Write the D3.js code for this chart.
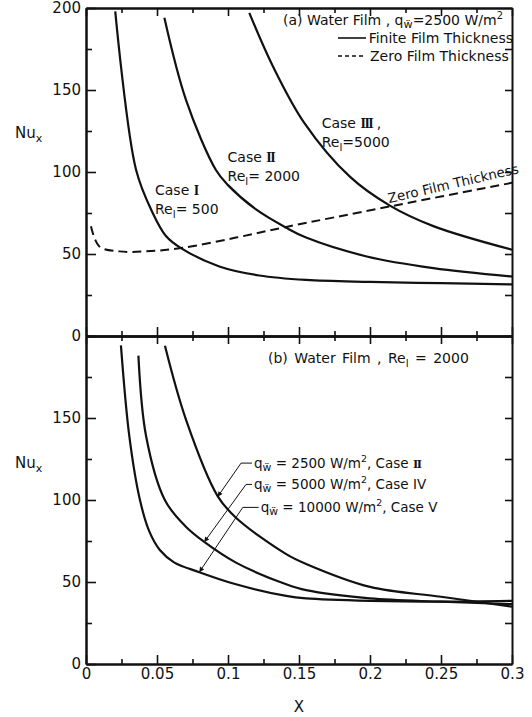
<!DOCTYPE html>
<html>
<head>
<meta charset="utf-8">
<script src="https://cdn.jsdelivr.net/npm/d3@7"></script>
<style>
  body { margin: 0; background: #fff; }
  text { font-family: "DejaVu Sans", sans-serif; fill: #111; }
  .domain { stroke: #111; stroke-width: 2; }
  .tick line { stroke: #111; stroke-width: 1.6; }
</style>
</head>
<body>
<div id="chart"></div>
<script>
// ---- data ----
const xTicks = [0, 0.05, 0.1, 0.15, 0.2, 0.25, 0.3];
const xMinor = [0.025, 0.075, 0.125, 0.175, 0.225, 0.275];
const topYTicks = [0, 50, 100, 150, 200];
const botYTicks = [0, 50, 100, 150];
const yMinor = [25, 75, 125, 175];
const rightTicks = [25, 50, 75, 100, 125, 150, 175];

// (a) q = 2500 W/m2, finite film thickness
const caseI_X  = [0.0206, 0.0352, 0.047, 0.0563, 0.0669, 0.0939, 0.122, 0.155, 0.2, 0.25, 0.3];
const caseI_Nu = [198, 101.5, 75, 61, 53.6, 42.4, 36.9, 34.2, 33, 32.2, 31.5];
const caseII_X  = [0.0552, 0.0704, 0.0915, 0.1, 0.12, 0.141, 0.155, 0.1977, 0.2446, 0.3];
const caseII_Nu = [194, 144, 101.2, 92, 77, 66, 60, 48.5, 41.4, 36.3];
const caseIII_X  = [0.115, 0.1315, 0.1537, 0.186, 0.214, 0.2446, 0.3];
const caseIII_Nu = [197, 164.7, 130, 97, 79.5, 67, 52.6];
// (a) zero film thickness
const zero_X  = [0.0035, 0.0094, 0.0235, 0.042, 0.067, 0.1056, 0.141, 0.214, 0.3];
const zero_Nu = [66.9, 54.6, 51.6, 51.6, 53.6, 60, 66.5, 79, 93.4];

// (b) Re = 2000
const q2500_X  = [0.0556, 0.0704, 0.0927, 0.1056, 0.141, 0.155, 0.2, 0.25, 0.3];
const q2500_Nu = [194, 149, 102.4, 89.2, 67, 61, 47, 41, 35];
const q5000_X  = [0.0369, 0.0423, 0.0555, 0.07, 0.0833, 0.1056, 0.141, 0.155, 0.2, 0.25, 0.3];
const q5000_Nu = [188, 139, 100, 84, 74.4, 61.8, 48.6, 45, 40, 38, 36.5];
const q10000_X  = [0.0246, 0.0305, 0.038, 0.0445, 0.052, 0.062, 0.0798, 0.1056, 0.141, 0.155, 0.2, 0.25, 0.3];
const q10000_Nu = [194.3, 139, 100, 81, 69.5, 62, 56, 48.6, 41.5, 40, 38.5, 38, 38.5];

const qFlux = ['2500', '5000', '10000'];
const qCase = ['II', 'IV', 'V'];

// ---- layout ----
const width = 532, height = 717;
const svg = d3.select('#chart').append('svg')
  .attr('width', width).attr('height', height);

const x = d3.scaleLinear().domain([0, 0.3]).range([86, 512]);
const yTop = d3.scaleLinear().domain([0, 200]).range([336, 8]);
const yBot = d3.scaleLinear().domain([0, 200]).range([664, 336]);

const fmtX = d => String(+d.toFixed(3));

function axis(gen, tx, ty) {
  return svg.append('g').attr('transform', `translate(${tx},${ty})`).call(gen);
}

// panel frames + ticks (all ticks point inward)
[[yTop, topYTicks], [yBot, botYTicks]].forEach(([y, ticks], i) => {
  const top = y.range()[1], bot = y.range()[0];
  axis(d3.axisLeft(y).tickValues(ticks).tickSize(-10).tickSizeOuter(0).tickPadding(5), 86, 0)
    .selectAll('text').attr('font-size', 15);
  axis(d3.axisLeft(y).tickValues(yMinor).tickSize(-6).tickSizeOuter(0).tickFormat(''), 86, 0);
  axis(d3.axisRight(y).tickValues(rightTicks).tickSize(-7).tickSizeOuter(0).tickFormat(''), 512, 0);
  axis(d3.axisTop(x).tickValues(xTicks).tickSize(-8).tickSizeOuter(0).tickFormat(''), 0, top);
  axis(d3.axisTop(x).tickValues(xMinor).tickSize(-5).tickSizeOuter(0).tickFormat(''), 0, top);
  const b = axis(d3.axisBottom(x).tickValues(xTicks).tickSize(-9).tickSizeOuter(0)
    .tickPadding(4).tickFormat(fmtX), 0, bot);
  if (i === 0) b.selectAll('text').remove(); else b.selectAll('text').attr('font-size', 15);
  axis(d3.axisBottom(x).tickValues(xMinor).tickSize(-5).tickSizeOuter(0).tickFormat(''), 0, bot);
});
svg.selectAll('.tick text').attr('fill', '#111');
svg.selectAll('.tick line').attr('stroke', '#111');

// axis titles
[133, 463].forEach(cy => {
  const t = svg.append('text').attr('x', 15).attr('y', cy + 5).attr('font-size', 15);
  t.append('tspan').text('Nu');
  t.append('tspan').attr('font-size', 11).attr('dy', 4).text('x');
});
svg.append('text').attr('x', 299).attr('y', 712).attr('text-anchor', 'middle')
  .attr('font-size', 15).text('X');

// curves
const line = y => d3.line().x(d => x(d[0])).y(d => y(d[1])).curve(d3.curveCatmullRom.alpha(0.5));
const solid = [
  [caseI_X, caseI_Nu, yTop], [caseII_X, caseII_Nu, yTop], [caseIII_X, caseIII_Nu, yTop],
  [q2500_X, q2500_Nu, yBot], [q5000_X, q5000_Nu, yBot], [q10000_X, q10000_Nu, yBot]
];
solid.forEach(([xs, ys, y]) => {
  svg.append('path').datum(d3.zip(xs, ys)).attr('d', line(y))
    .attr('fill', 'none').attr('stroke', '#111').attr('stroke-width', 2.2);
});
svg.append('path').datum(d3.zip(zero_X, zero_Nu)).attr('d', line(yTop))
  .attr('fill', 'none').attr('stroke', '#111').attr('stroke-width', 2)
  .attr('stroke-dasharray', '9,5');

// helpers for the notation
function qw(t) {
  t.append('tspan').text('q');
  t.append('tspan').attr('font-size', '0.8em').attr('dy', 3).text('\u1E85');
  return t.append('tspan').attr('dy', -3);
}
function sup2(t) {
  t.append('tspan').attr('font-size', '0.7em').attr('dy', -6).text('2');
  return t.append('tspan').attr('dy', 6);
}
function rel(t, val) {
  t.append('tspan').text('Re');
  t.append('tspan').attr('font-size', '0.75em').attr('dy', 4).text('l');
  t.append('tspan').attr('dy', -4).text(val);
}
function roman(t, s) {
  t.append('tspan').attr('font-family', '"Liberation Serif", serif').attr('font-weight', 'bold')
    .attr('letter-spacing', -1.5).text(s);
}

// (a) legend
let t = svg.append('text').attr('x', 283).attr('y', 25).attr('font-size', 14);
t.append('tspan').text('(a) Water Film , ');
qw(t).text('=2500 W/m');
sup2(t);
svg.append('line').attr('x1', 338).attr('x2', 366).attr('y1', 38).attr('y2', 38)
  .attr('stroke', '#111').attr('stroke-width', 1.6);
svg.append('text').attr('x', 513).attr('y', 43).attr('text-anchor', 'end')
  .attr('font-size', 14).text('Finite Film Thickness');
svg.append('line').attr('x1', 338).attr('x2', 366).attr('y1', 56).attr('y2', 56)
  .attr('stroke', '#111').attr('stroke-width', 1.6).attr('stroke-dasharray', '4,3');
svg.append('text').attr('x', 370).attr('y', 61).attr('font-size', 14).text('Zero Film Thickness');

// (a) case labels (centre of first line)
const caseLabels = [
  { X: 0.0486, Nu: 89, name: 'I', re: '= 500' },
  { X: 0.0997, Nu: 109, name: 'II', re: '= 2000' },
  { X: 0.166, Nu: 130, name: 'III', re: '=5000' }
];
caseLabels.forEach(c => {
  const by = yTop(c.Nu) + 5;
  const t1 = svg.append('text').attr('x', x(c.X)).attr('y', by).attr('font-size', 14);
  t1.append('tspan').text('Case ');
  roman(t1, c.name);
  if (c.name === 'III') t1.append('tspan').text(' ,');
  const t2 = svg.append('text').attr('x', x(c.X)).attr('y', by + 19).attr('font-size', 14);
  rel(t2, c.re);
});
// label along the zero-film line
svg.append('text').attr('font-size', 13.5)
  .attr('transform', `translate(${x(0.2134)},${yTop(81)}) rotate(-13)`)
  .text('Zero Film Thickness');

// (b) title
t = svg.append('text').attr('x', 268).attr('y', 363).attr('font-size', 14)
  .attr('word-spacing', 2);
t.append('tspan').text('(b)  Water  Film , ');
rel(t, ' = 2000');

// (b) leader labels
const notes = [
  { tipX: 0.0927, tipNu: 102, elbowX: 0.1092, elbowNu: 122.5, labelX: 0.1183 },
  { tipX: 0.0833, tipNu: 74.4, elbowX: 0.1127, elbowNu: 109.5, labelX: 0.1183 },
  { tipX: 0.0798, tipNu: 56, elbowX: 0.1104, elbowNu: 95.5, labelX: 0.123 }
];
const defs = svg.append('defs');
defs.append('marker').attr('id', 'arr').attr('viewBox', '0 0 10 10')
  .attr('refX', 10).attr('refY', 5).attr('markerUnits', 'userSpaceOnUse')
  .attr('markerWidth', 9).attr('markerHeight', 5).attr('orient', 'auto')
  .append('path').attr('d', 'M0,0L10,5L0,10z').attr('fill', '#111');
notes.forEach((n, i) => {
  const ey = yBot(n.elbowNu);
  svg.append('path')
    .attr('d', `M${x(n.labelX) - 2},${ey}L${x(n.elbowX)},${ey}L${x(n.tipX)},${yBot(n.tipNu)}`)
    .attr('fill', 'none').attr('stroke', '#111').attr('stroke-width', 1)
    .attr('marker-end', 'url(#arr)');
  const tt = svg.append('text').attr('x', x(n.labelX)).attr('y', ey + 5).attr('font-size', 13.5);
  qw(tt).text(` = ${qFlux[i]} W/m`);
  sup2(tt).text(', Case ');
  if (qCase[i] === 'II') roman(tt, 'II'); else tt.append('tspan').text(qCase[i]);
});
</script>
</body>
</html>
